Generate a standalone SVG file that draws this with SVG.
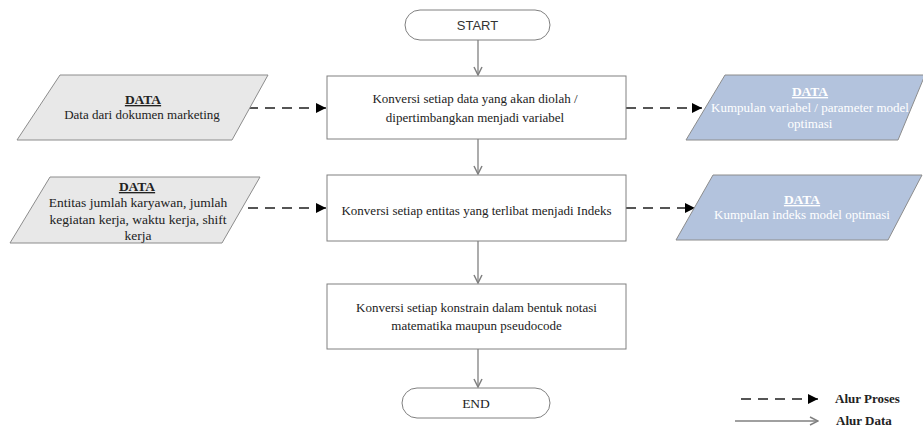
<svg xmlns="http://www.w3.org/2000/svg" width="923" height="430" viewBox="0 0 923 430">
<defs>
<marker id="ah" viewBox="0 0 10 10" refX="10" refY="5" markerWidth="10" markerHeight="10" markerUnits="userSpaceOnUse" orient="auto"><path d="M0,0 L10,5 L0,10 Z" fill="#000"/></marker>
<marker id="av" viewBox="0 0 10 10" refX="9" refY="5" markerWidth="10" markerHeight="10" markerUnits="userSpaceOnUse" orient="auto"><path d="M1,1 L9,5 L1,9" fill="none" stroke="#808080" stroke-width="1.5"/></marker>
<style>
.proc{fill:#fff;stroke:#808080;stroke-width:1}
.term{fill:#fff;stroke:#808080;stroke-width:1}
.din{fill:#e8e8e8;stroke:#8c8c8c;stroke-width:1}
.dout{fill:#b3c3dd;stroke:#8c8c8c;stroke-width:1}
.t{font-family:"Liberation Serif","Times New Roman",serif;font-size:13px;fill:#222;text-anchor:middle}
.tw{font-family:"Liberation Serif","Times New Roman",serif;font-size:13px;fill:#fff;text-anchor:middle}
.h{font-weight:bold;text-decoration:underline;font-size:13.5px}
.s{font-family:"Liberation Sans",Arial,sans-serif;font-size:13px;fill:#333;text-anchor:middle}
.dash{stroke:#555;stroke-width:2;stroke-dasharray:10 7;fill:none}
.flow{stroke:#808080;stroke-width:1.3;fill:none}
.lg{font-family:"Liberation Serif","Times New Roman",serif;font-size:13px;font-weight:bold;fill:#222}
</style>
</defs>
<g id="connectors">
<line class="flow" x1="478" y1="40" x2="478" y2="75" marker-end="url(#av)"/>
<line class="flow" x1="478" y1="139" x2="478" y2="174" marker-end="url(#av)"/>
<line class="flow" x1="478" y1="241" x2="478" y2="283" marker-end="url(#av)"/>
<line class="flow" x1="478" y1="349" x2="478" y2="387" marker-end="url(#av)"/>
<line class="dash" x1="248" y1="108" x2="326" y2="108" marker-end="url(#ah)"/>
<line class="dash" x1="248" y1="208" x2="326" y2="208" marker-end="url(#ah)"/>
<line class="dash" x1="626" y1="108" x2="702" y2="108" marker-end="url(#ah)"/>
<line class="dash" x1="626" y1="208" x2="695" y2="208" marker-end="url(#ah)"/>
</g>
<g id="start">
<rect class="term" x="405" y="10" width="145" height="30" rx="15" ry="15"/>
<text class="s" x="477.5" y="30">START</text>
</g>
<g id="process1">
<rect class="proc" x="327" y="76" width="299" height="63"/>
<text class="t" x="475" y="103">Konversi setiap data yang akan diolah /</text>
<text class="t" x="475" y="122">dipertimbangkan menjadi variabel</text>
</g>
<g id="process2">
<rect class="proc" x="327" y="175" width="299" height="66"/>
<text class="t" x="476.5" y="215">Konversi setiap entitas yang terlibat menjadi Indeks</text>
</g>
<g id="process3">
<rect class="proc" x="327" y="284" width="299" height="65"/>
<text class="t" x="476.5" y="312">Konversi setiap konstrain dalam bentuk notasi</text>
<text class="t" x="476.5" y="330">matematika maupun pseudocode</text>
</g>
<g id="end">
<rect class="term" x="402" y="388" width="148" height="30" rx="15" ry="15"/>
<text class="t" x="476" y="408" style="font-size:13.5px">END</text>
</g>
<g id="data-in-1">
<polygon class="din" points="60,75 268,75 232,140 17,140"/>
<text class="t h" x="143" y="104">DATA</text>
<text class="t" x="142" y="119">Data dari dokumen marketing</text>
</g>
<g id="data-in-2">
<polygon class="din" points="50,177 260,177 222,243 10,243"/>
<text class="t h" x="137" y="191">DATA</text>
<text class="t" x="138" y="207" style="font-size:13.5px">Entitas jumlah  karyawan, jumlah</text>
<text class="t" x="138" y="224" style="font-size:13.5px">kegiatan  kerja, waktu kerja, shift</text>
<text class="t" x="138" y="240" style="font-size:13.5px">kerja</text>
</g>
<g id="data-out-1">
<polygon class="dout" points="725,75 925,75 898,140 686,140"/>
<text class="tw h" x="810" y="96">DATA</text>
<text class="tw" x="810" y="112">Kumpulan variabel / parameter model</text>
<text class="tw" x="810" y="128">optimasi</text>
</g>
<g id="data-out-2">
<polygon class="dout" points="713,175 922,175 888,240 676,240"/>
<text class="tw h" x="802" y="204">DATA</text>
<text class="tw" x="802" y="219">Kumpulan indeks model optimasi</text>
</g>
<g id="legend">
<line class="dash" x1="741" y1="399" x2="818" y2="399" marker-end="url(#ah)"/>
<text class="lg" x="835" y="403">Alur Proses</text>
<line class="flow" x1="735" y1="421" x2="818" y2="421" marker-end="url(#av)"/>
<text class="lg" x="836" y="425">Alur Data</text>
</g>
</svg>
